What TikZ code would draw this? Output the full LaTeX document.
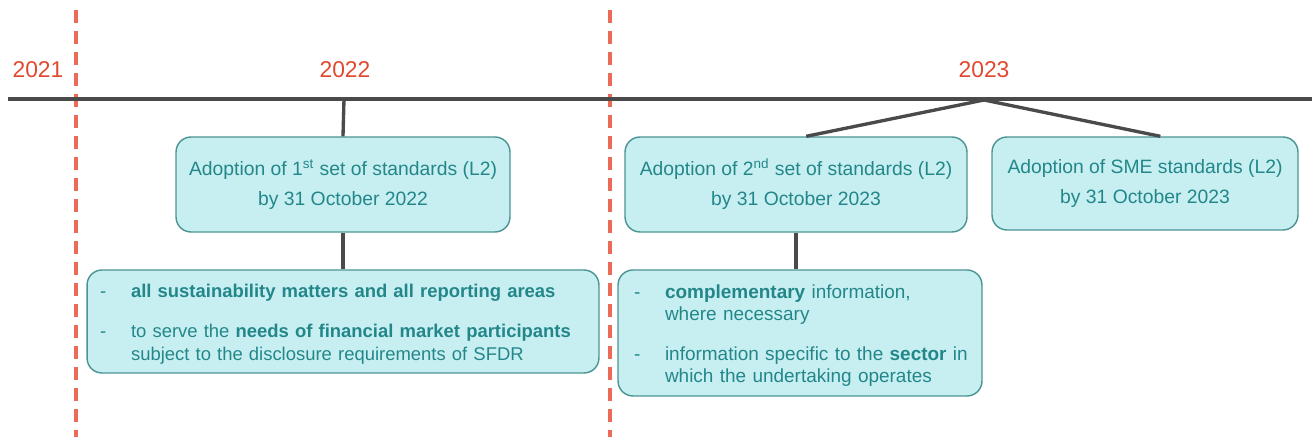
\documentclass[tikz,border=0pt]{standalone}
\usepackage{fontspec}
\setmainfont{Liberation Sans}
\usepackage{array}
\usetikzlibrary{positioning}
\definecolor{yearred}{HTML}{E0492F}
\definecolor{dashred}{HTML}{EC6B56}
\definecolor{boxfill}{HTML}{C7EFF1}
\definecolor{boxdraw}{HTML}{4A9494}
\definecolor{boxtext}{HTML}{23878A}
\definecolor{linegray}{HTML}{4A4A4A}
\tikzset{%
	yearlabel/.style = {text=yearred, font=\fontsize{13}{15}\selectfont},
	yearsep/.style   = {dashred, line width=2pt, dash pattern=on 0.26cm off 0.16cm},
	timeline/.style  = {linegray, line width=2.2pt},
	connector/.style = {linegray, line width=1.9pt},
	adoptbox/.style  = {draw=boxdraw, fill=boxfill, rounded corners=0.3cm, line width=0.8pt, text=boxtext, align=center, font=\fontsize{11}{17}\selectfont},
	infobox/.style   = {draw=boxdraw, fill=boxfill, rounded corners=0.3cm, line width=0.8pt, text=boxtext, align=left},
}

\begin{document}
\begin{tikzpicture}[x=0.02cm,y=-0.02cm]
	\useasboundingbox (0,0) rectangle (1312,445);
	\coordinate (tl-west) at (8,99);
	\coordinate (tl-east) at (1312,99);
	\coordinate (j2022) at (344,99);
	\coordinate (j2023) at (984,100);
	\draw[yearsep] (76,10) -- (76,437);
	\draw[yearsep] (610,10) -- (610,437);
	\node[yearlabel] (y2021) at (38,70) {2021};
	\node[yearlabel] (y2022) at (345,70) {2022};
	\node[yearlabel] (y2023) at (984,70) {2023};
	\node[adoptbox, minimum width=6.68cm, minimum height=1.9cm] (adopt1) at (343,184.5) {Adoption of 1\textsuperscript{st} set of standards (L2)\\by 31 October 2022};
	\node[adoptbox, minimum width=6.84cm, minimum height=1.9cm] (adopt2) at (796,184.5) {Adoption of 2\textsuperscript{nd} set of standards (L2)\\by 31 October 2023};
	\node[adoptbox, minimum width=6.12cm, minimum height=1.86cm] (sme) at (1145,183.5) {Adoption of SME standards (L2)\\by 31 October 2023};
	\node[infobox, text width=9.72cm, inner xsep=0.26cm, minimum height=2.06cm, font=\fontsize{10.5}{12.8}\selectfont] (scope1) at (343,321.5) {%
		\begin{tabular}{@{}p{0.62cm}@{}l@{}}
			\noalign{\vskip 3.4pt}
			- & \textbf{all sustainability matters and all reporting areas}\\[9.8pt]
			- & to serve the \textbf{needs of financial market participants}\\
			  & subject to the disclosure requirements of SFDR
		\end{tabular}};
	\node[infobox, text width=6.64cm, inner xsep=0.32cm, minimum height=2.52cm, font=\fontsize{10.8}{12.8}\selectfont] (scope2) at (800,333) {%
		\begin{tabular}{@{}p{0.62cm}@{}l@{}}
			\noalign{\vskip 3.4pt}
			- & \textbf{complementary} information,\\
			  & where necessary\\[9.8pt]
			- & information specific to the \textbf{sector} in\\
			  & which the undertaking operates
		\end{tabular}};
	\draw[timeline] (tl-west) -- (tl-east);
	\draw[connector] (j2022) -- (adopt1.north);
	\draw[connector] (adopt1.south) -- (scope1.north);
	\draw[connector] (j2023) -- (adopt2.78);
	\draw[connector] (j2023) -- (sme.72);
	\draw[connector] (adopt2.south) -- (adopt2.south |- scope2.north);
\end{tikzpicture}
\end{document}
